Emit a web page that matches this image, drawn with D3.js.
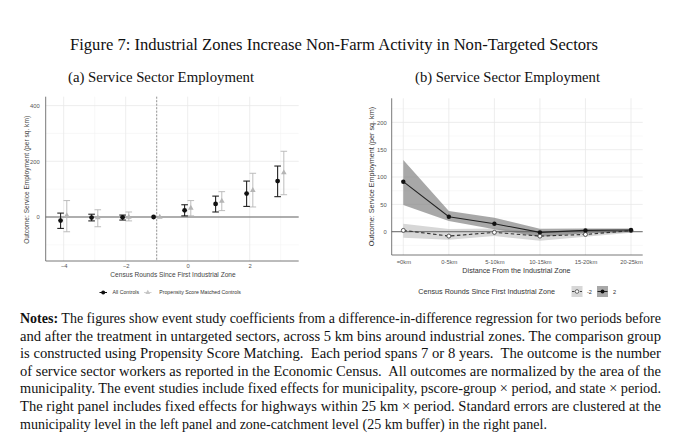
<!DOCTYPE html>
<html><head><meta charset="utf-8">
<script src="https://cdn.jsdelivr.net/npm/d3@7"></script>
<style>
html,body{margin:0;padding:0;background:#fff;}
svg{display:block;}
</style></head>
<body>
<svg id="fig" width="680" height="448"></svg>
<script>
// ---------- DATA ----------
const figTitle = "Figure 7: Industrial Zones Increase Non-Farm Activity in Non-Targeted Sectors";
const subTitles = ["(a) Service Sector Employment", "(b) Service Sector Employment"];

// Left panel: event study
const eventTimes = [-4, -3, -2, -1, 0, 1, 2, 3];
const allEst = [-13, -2, -1, 0, 24, 47, 84, 129];
const allLo  = [-41, -14, -11, 0, 4, 18, 38, 73];
const allHi  = [14, 10, 7, 0, 44, 75, 129, 183];
const psmEst = [5, -2, 0, 0, 32, 57, 96, 159];
const psmLo  = [-53, -35, -14, 0, 4, 23, 36, 80];
const psmHi  = [59, 26, 18, 0, 59, 91, 157, 236];
const leftXTicks = [-4, -2, 0, 2];
const leftYTicks = [0, 200, 400];
const leftSeries = ["All Controls", "Propensity Score Matched Controls"];

// Right panel: distance bins
const distBins = ["=0km", "0-5km", "5-10km", "10-15km", "15-20km", "20-25km"];
const preEst = [2.4, -8, -1.2, -8, -5, 2];
const preLo  = [-11, -14.6, -8, -16.5, -9, -2];
const preHi  = [14.6, 5, 6, 0, 3, 4];
const postEst = [91.5, 27.4, 14.6, -1.2, 2.4, 3];
const postLo  = [49, 19.5, 4.3, -9, -3, 0];
const postHi  = [131, 38, 25.6, 5.5, 6, 6];
const rightYTicks = [0, 50, 100, 150, 200];
const roundLabels = ["-2", "2"];

const yTitle = "Outcome: Service Employment (per sq. km)";
const leftXTitle = "Census Rounds Since First Industrial Zone";
const rightXTitle = "Distance From the Industrial Zone";
const legendTitle = "Census Rounds Since First Industrial Zone";

const notesLines = [
  ["Notes:", " The figures show event study coefficients from a difference-in-difference regression for two periods before"],
  ["", "and after the treatment in untargeted sectors, across 5 km bins around industrial zones. The comparison group"],
  ["", "is constructed using Propensity Score Matching.  Each period spans 7 or 8 years.  The outcome is the number"],
  ["", "of service sector workers as reported in the Economic Census.  All outcomes are normalized by the area of the"],
  ["", "municipality. The event studies include fixed effects for municipality, pscore-group \u00d7 period, and state \u00d7 period."],
  ["", "The right panel includes fixed effects for highways within 25 km \u00d7 period. Standard errors are clustered at the"],
  ["", "municipality level in the left panel and zone-catchment level (25 km buffer) in the right panel."]
];

// ---------- DRAW ----------
const svg = d3.select("#fig");
svg.append("rect").attr("width", 680).attr("height", 448).attr("fill", "#fff");
const serif = "'Liberation Serif','DejaVu Serif',serif";
const sans = "'Liberation Sans',Arial,sans-serif";

svg.append("text").attr("x", 334).attr("y", 50).attr("text-anchor", "middle")
  .attr("font-family", serif).attr("font-size", 17).attr("fill", "#111")
  .attr("textLength", 528).attr("lengthAdjust", "spacingAndGlyphs").text(figTitle);
svg.append("text").attr("x", 68).attr("y", 82).attr("font-family", serif).attr("font-size", 15.5)
  .attr("fill", "#111").attr("textLength", 186).attr("lengthAdjust", "spacingAndGlyphs").text(subTitles[0]);
svg.append("text").attr("x", 415).attr("y", 82).attr("font-family", serif).attr("font-size", 15.5)
  .attr("fill", "#111").attr("textLength", 185).attr("lengthAdjust", "spacingAndGlyphs").text(subTitles[1]);

// ===== Left panel =====
const L = {x0: 45.7, x1: 298.7, y0: 96.7, y1: 261};
const xL = d3.scaleLinear().domain([-4.58, 3.58]).range([L.x0, L.x1]);
const yL = d3.scaleLinear().domain([-158, 432]).range([L.y1, L.y0]);
const gL = svg.append("g");
gL.selectAll(".vgm").data([-3, -1, 1, 3]).join("line")
  .attr("x1", d => xL(d)).attr("x2", d => xL(d)).attr("y1", L.y0).attr("y2", L.y1)
  .attr("stroke", "#f3f3f3").attr("stroke-width", 0.6);
gL.selectAll(".hgm").data([-100, 100, 300]).join("line")
  .attr("x1", L.x0).attr("x2", L.x1).attr("y1", d => yL(d)).attr("y2", d => yL(d))
  .attr("stroke", "#f3f3f3").attr("stroke-width", 0.6);
gL.selectAll(".vg").data(leftXTicks).join("line")
  .attr("x1", d => xL(d)).attr("x2", d => xL(d)).attr("y1", L.y0).attr("y2", L.y1)
  .attr("stroke", "#e8e8e8").attr("stroke-width", 0.8);
gL.selectAll(".hg").data(leftYTicks).join("line")
  .attr("x1", L.x0).attr("x2", L.x1).attr("y1", d => yL(d)).attr("y2", d => yL(d))
  .attr("stroke", "#e8e8e8").attr("stroke-width", 0.8);
gL.append("line").attr("x1", L.x0).attr("x2", L.x1).attr("y1", yL(0)).attr("y2", yL(0))
  .attr("stroke", "#666").attr("stroke-width", 1);
gL.append("line").attr("x1", xL(-1)).attr("x2", xL(-1)).attr("y1", L.y0).attr("y2", L.y1)
  .attr("stroke", "#888").attr("stroke-width", 0.9).attr("stroke-dasharray", "2,1.5");
const axL = gL.append("g").attr("transform", `translate(0,${L.y1})`)
  .call(d3.axisBottom(xL).tickValues(leftXTicks).tickSize(0).tickPadding(3.2).tickFormat(d3.format("d")));
axL.select(".domain").attr("stroke", "#555").attr("stroke-width", 0.8).attr("d", `M${L.x0},0H${L.x1}`);
axL.selectAll("text").attr("font-family", sans).attr("font-size", 5.8).attr("fill", "#555");
const ayL = gL.append("g").attr("transform", `translate(${L.x0},0)`)
  .call(d3.axisLeft(yL).tickValues(leftYTicks).tickSize(0).tickPadding(6));
ayL.select(".domain").attr("stroke", "#555").attr("stroke-width", 0.8).attr("d", `M0,${L.y0}V${L.y1}`);
ayL.selectAll("text").attr("font-family", sans).attr("font-size", 5.8).attr("fill", "#555");
gL.append("text").attr("x", 173).attr("y", 277).attr("text-anchor", "middle")
  .attr("font-family", sans).attr("font-size", 6.6).attr("fill", "#444").text(leftXTitle);
gL.append("text").attr("transform", `translate(28.5,${(L.y0 + L.y1) / 2 + 1}) rotate(-90)`).attr("text-anchor", "middle")
  .attr("font-family", sans).attr("font-size", 6.6).attr("fill", "#444").text(yTitle);

const off = 0.1, capW = 3.3;
function errbars(g, est, lo, hi, dx, color, sw) {
  eventTimes.forEach((t, i) => {
    if (lo[i] === hi[i]) return;
    const x = xL(t + dx);
    g.append("line").attr("x1", x).attr("x2", x).attr("y1", yL(lo[i])).attr("y2", yL(hi[i]))
      .attr("stroke", color).attr("stroke-width", sw);
    [lo[i], hi[i]].forEach(v => g.append("line").attr("x1", x - capW).attr("x2", x + capW)
      .attr("y1", yL(v)).attr("y2", yL(v)).attr("stroke", color).attr("stroke-width", sw));
  });
}
errbars(gL, psmEst, psmLo, psmHi, off, "#b5b5b5", 0.9);
errbars(gL, allEst, allLo, allHi, -off, "#222", 1.1);
const tri = d3.symbol().type(d3.symbolTriangle).size(14);
gL.selectAll(".tri").data(eventTimes).join("path")
  .attr("d", tri).attr("transform", (d, i) => `translate(${xL(d + off)},${yL(psmEst[i])})`)
  .attr("fill", "#b5b5b5");
gL.selectAll(".dot").data(eventTimes).join("circle")
  .attr("cx", d => xL(d - off)).attr("cy", (d, i) => yL(allEst[i])).attr("r", 2.4).attr("fill", "#111");

const lgL = svg.append("g").attr("transform", "translate(0,292.5)");
lgL.append("line").attr("x1", 99.5).attr("x2", 107).attr("y1", 0).attr("y2", 0).attr("stroke", "#111").attr("stroke-width", 1);
lgL.append("circle").attr("cx", 103.2).attr("cy", 0).attr("r", 2).attr("fill", "#111");
lgL.append("text").attr("x", 112.5).attr("y", 1.8).attr("font-family", sans).attr("font-size", 5.2).attr("fill", "#333").text(leftSeries[0]);
lgL.append("line").attr("x1", 144).attr("x2", 151.5).attr("y1", 0).attr("y2", 0).attr("stroke", "#c5c5c5").attr("stroke-width", 0.8);
lgL.append("path").attr("d", d3.symbol().type(d3.symbolTriangle).size(10)).attr("transform", "translate(147.8,0)").attr("fill", "#c5c5c5");
lgL.append("text").attr("x", 159.3).attr("y", 1.8).attr("font-family", sans).attr("font-size", 5.2).attr("fill", "#333").text(leftSeries[1]);

// ===== Right panel =====
const R = {x0: 391.7, x1: 642.7, y0: 98.3, y1: 255};
const xR = d3.scalePoint().domain(distBins).range([403.3, 631]);
const yR = d3.scaleLinear().domain([-42.6, 244]).range([R.y1, R.y0]);
const gR = svg.append("g");
gR.selectAll(".hgm").data([25, 75, 125, 175, 225, -25]).join("line")
  .attr("x1", R.x0).attr("x2", R.x1).attr("y1", d => yR(d)).attr("y2", d => yR(d))
  .attr("stroke", "#f4f4f4").attr("stroke-width", 0.6);
gR.selectAll(".hg").data(rightYTicks).join("line")
  .attr("x1", R.x0).attr("x2", R.x1).attr("y1", d => yR(d)).attr("y2", d => yR(d))
  .attr("stroke", "#e8e8e8").attr("stroke-width", 0.8);
gR.selectAll(".vg").data(distBins).join("line")
  .attr("x1", d => xR(d)).attr("x2", d => xR(d)).attr("y1", R.y0).attr("y2", R.y1)
  .attr("stroke", "#e8e8e8").attr("stroke-width", 0.8);

const area = (lo, hi) => d3.area().x(d => xR(d)).y0((d, i) => yR(lo[i])).y1((d, i) => yR(hi[i]))(distBins);
gR.append("path").attr("d", area(preLo, preHi)).attr("fill", "#bdbdbd").attr("fill-opacity", 0.6);
gR.append("path").attr("d", area(postLo, postHi)).attr("fill", "#7a7a7a").attr("fill-opacity", 0.65);

gR.append("line").attr("x1", R.x0).attr("x2", R.x1).attr("y1", yR(0)).attr("y2", yR(0))
  .attr("stroke", "#666").attr("stroke-width", 1);

const lineGen = est => d3.line().x(d => xR(d)).y((d, i) => yR(est[i]))(distBins);
gR.append("path").attr("d", lineGen(preEst)).attr("fill", "none").attr("stroke", "#333")
  .attr("stroke-width", 1.1).attr("stroke-dasharray", "3.5,2.5");
gR.append("path").attr("d", lineGen(postEst)).attr("fill", "none").attr("stroke", "#222").attr("stroke-width", 1.1);
gR.selectAll(".po").data(distBins).join("circle")
  .attr("cx", d => xR(d)).attr("cy", (d, i) => yR(preEst[i])).attr("r", 2)
  .attr("fill", "#fff").attr("stroke", "#333").attr("stroke-width", 0.8);
gR.selectAll(".pf").data(distBins).join("circle")
  .attr("cx", d => xR(d)).attr("cy", (d, i) => yR(postEst[i])).attr("r", 2.2).attr("fill", "#111");

const axR = gR.append("g").attr("transform", `translate(0,${R.y1})`)
  .call(d3.axisBottom(xR).tickSize(0).tickPadding(4.5));
axR.select(".domain").attr("stroke", "#555").attr("stroke-width", 0.8).attr("d", `M${R.x0},0H${R.x1}`);
axR.selectAll("text").attr("font-family", sans).attr("font-size", 5.8).attr("fill", "#555");
const ayR = gR.append("g").attr("transform", `translate(${R.x0},0)`)
  .call(d3.axisLeft(yR).tickValues(rightYTicks).tickSize(0).tickPadding(5));
ayR.select(".domain").attr("stroke", "#555").attr("stroke-width", 0.8).attr("d", `M0,${R.y0}V${R.y1}`);
ayR.selectAll("text").attr("font-family", sans).attr("font-size", 5.8).attr("fill", "#555");
gR.append("text").attr("x", 516.5).attr("y", 273).attr("text-anchor", "middle")
  .attr("font-family", sans).attr("font-size", 7.2).attr("fill", "#333").text(rightXTitle);
gR.append("text").attr("transform", `translate(374,${(R.y0 + R.y1) / 2}) rotate(-90)`).attr("text-anchor", "middle")
  .attr("font-family", sans).attr("font-size", 7.2).attr("fill", "#333").text(yTitle);

const lgR = svg.append("g").attr("transform", "translate(0,291.5)");
lgR.append("text").attr("x", 418.3).attr("y", 2.5).attr("font-family", sans).attr("font-size", 7.2).attr("fill", "#333").text(legendTitle);
lgR.append("rect").attr("x", 571.5).attr("y", -5.5).attr("width", 11).attr("height", 11).attr("fill", "#bdbdbd").attr("fill-opacity", 0.6);
lgR.append("line").attr("x1", 572).attr("x2", 582).attr("y1", 0).attr("y2", 0).attr("stroke", "#333").attr("stroke-width", 0.9).attr("stroke-dasharray", "2.5,1.5");
lgR.append("circle").attr("cx", 577).attr("cy", 0).attr("r", 1.8).attr("fill", "#fff").attr("stroke", "#333").attr("stroke-width", 0.7);
lgR.append("text").attr("x", 587).attr("y", 2).attr("font-family", sans).attr("font-size", 5.6).attr("fill", "#333").text(roundLabels[0]);
lgR.append("rect").attr("x", 597).attr("y", -5.5).attr("width", 11).attr("height", 11).attr("fill", "#7a7a7a").attr("fill-opacity", 0.65);
lgR.append("line").attr("x1", 597.5).attr("x2", 607.5).attr("y1", 0).attr("y2", 0).attr("stroke", "#222").attr("stroke-width", 1);
lgR.append("circle").attr("cx", 602.5).attr("cy", 0).attr("r", 2).attr("fill", "#111");
lgR.append("text").attr("x", 613).attr("y", 2).attr("font-family", sans).attr("font-size", 5.6).attr("fill", "#333").text(roundLabels[1]);

// ===== Notes =====
const notesX = 20, notesW = 641, notesY0 = 323, notesDy = 17.6;
notesLines.forEach((ln, i) => {
  const t = svg.append("text").attr("x", notesX).attr("y", notesY0 + i * notesDy)
    .attr("font-family", serif).attr("font-size", 14).attr("fill", "#111")
    .attr("xml:space", "preserve");
  if (i < notesLines.length - 1) t.attr("textLength", notesW).attr("lengthAdjust", "spacingAndGlyphs");
  if (ln[0]) t.append("tspan").attr("font-weight", "bold").text(ln[0]);
  t.append("tspan").text(ln[1]);
});
</script>
</body></html>
